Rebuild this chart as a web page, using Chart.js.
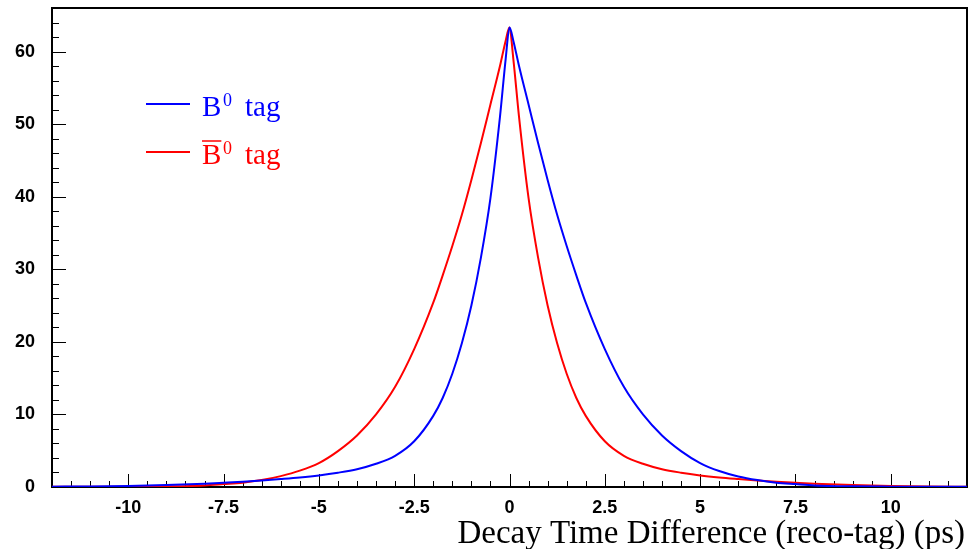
<!DOCTYPE html>
<html>
<head>
<meta charset="utf-8">
<script src="https://cdn.jsdelivr.net/npm/chart.js@4/dist/chart.umd.min.js"></script>
<style>
  html, body { margin: 0; padding: 0; background: #fff; }
  #wrap { width: 978px; height: 549px; position: relative; }
</style>
</head>
<body>
<div id="wrap"><canvas id="decayChart"></canvas></div>
<script>
// decay time difference (ps), shared by both curves
const times = [-12, -11, -10, -9, -8, -7.5, -7, -6.5, -6, -5.5, -5, -4.5, -4, -3.5, -3, -2.5, -2, -1.75, -1.5, -1.25, -1, -0.75, -0.5, -0.25, -0.1, 0,
               0.1, 0.25, 0.5, 0.75, 1, 1.25, 1.5, 1.75, 2, 2.5, 3, 3.5, 4, 4.5, 5, 5.5, 6, 6.5, 7, 7.5, 8, 9, 10, 11, 12];

const b0Tag = [0.04, 0.08, 0.15, 0.27, 0.45, 0.58, 0.72, 0.9, 1.1, 1.32, 1.6, 1.97, 2.45, 3.2, 4.3, 6.3, 9.8, 12.3, 15.6, 19.8, 25.0, 31.6, 39.8, 51.0, 59.0, 63.3,
               61.5, 58.0, 52.7, 47.4, 42.3, 37.5, 33.2, 29.2, 25.4, 19.0, 13.8, 10.0, 7.1, 4.95, 3.3, 2.2, 1.45, 0.95, 0.6, 0.4, 0.22, 0.09, 0.05, 0.03, 0.02];

const b0barTag = [0.02, 0.03, 0.05, 0.09, 0.22, 0.4, 0.6, 0.95, 1.5, 2.25, 3.3, 4.95, 7.1, 10.0, 13.8, 19.0, 25.4, 29.2, 33.2, 37.5, 42.3, 47.4, 52.7, 58.0, 61.5, 63.3,
                  59.0, 51.0, 39.8, 31.6, 25.0, 19.8, 15.6, 12.3, 9.8, 6.3, 4.3, 3.2, 2.45, 1.97, 1.6, 1.32, 1.1, 0.9, 0.72, 0.58, 0.45, 0.27, 0.15, 0.08, 0.04];

const xTicks = [-10, -7.5, -5, -2.5, 0, 2.5, 5, 7.5, 10];
const yTicks = [0, 10, 20, 30, 40, 50, 60];

const pts = (vals) => times.map((t, i) => ({ x: t, y: vals[i] }));

// frame, inward ticks, legend and axis title, ROOT-style
const rootFrame = {
    id: 'rootFrame',
    beforeDatasetsDraw(chart) {
        const { ctx, chartArea: a, scales: { x, y } } = chart;
        ctx.save();
        ctx.strokeStyle = '#000';
        ctx.lineWidth = 1;
        // minor + major ticks on x
        for (let v = -12; v <= 12.001; v += 0.5) {
            const px = Math.round(x.getPixelForValue(v)) + 0.5;
            const major = Math.abs(v / 2.5 - Math.round(v / 2.5)) < 1e-6;
            ctx.beginPath();
            ctx.moveTo(px, a.bottom);
            ctx.lineTo(px, a.bottom - (major ? 13 : 6));
            ctx.stroke();
        }
        for (let v = 0; v <= 66; v += 2) {
            const py = Math.round(y.getPixelForValue(v)) + 0.5;
            const major = v % 10 === 0;
            ctx.beginPath();
            ctx.moveTo(a.left, py);
            ctx.lineTo(a.left + (major ? 14 : 7), py);
            ctx.stroke();
        }
        ctx.lineWidth = 2;
        ctx.strokeRect(a.left, a.top, a.right - a.left, a.bottom - a.top);
        ctx.restore();
    },
    afterDraw(chart) {
        const { ctx } = chart;
        const serif = '"Liberation Serif", "Times New Roman", serif';
        ctx.save();
        const entries = [
            { color: '#0000ff', y: 104, bar: false },
            { color: '#ff0000', y: 152, bar: true }
        ];
        entries.forEach(e => {
            ctx.strokeStyle = e.color;
            ctx.lineWidth = 2;
            ctx.beginPath();
            ctx.moveTo(146, e.y);
            ctx.lineTo(190, e.y);
            ctx.stroke();
            ctx.fillStyle = e.color;
            ctx.textBaseline = 'alphabetic';
            ctx.font = '29px ' + serif;
            const base = e.y + 12;
            ctx.fillText('B', 202, base);
            const bw = ctx.measureText('B').width;
            if (e.bar) {
                ctx.lineWidth = 1.5;
                ctx.beginPath();
                ctx.moveTo(202, base - 23);
                ctx.lineTo(202 + bw, base - 23);
                ctx.stroke();
            }
            ctx.font = '18px ' + serif;
            ctx.fillText('0', 223, base - 10);
            ctx.font = '29px ' + serif;
            ctx.fillText('tag', 245, base);
        });
        ctx.fillStyle = '#000';
        ctx.font = '33px ' + serif;
        ctx.textAlign = 'right';
        ctx.fillText('Decay Time Difference (reco-tag) (ps)', 965, 543);
        ctx.restore();
    }
};

const labelFont = { family: '"Liberation Sans", Arial, sans-serif', size: 18, weight: 'bold' };

new Chart(document.getElementById('decayChart'), {
    type: 'line',
    data: {
        datasets: [
            { label: 'B0 tag', data: pts(b0Tag), borderColor: '#0000ff', borderWidth: 2, pointRadius: 0, fill: false, cubicInterpolationMode: 'monotone' },
            { label: 'B0bar tag', data: pts(b0barTag), borderColor: '#ff0000', borderWidth: 2, pointRadius: 0, fill: false, cubicInterpolationMode: 'monotone' }
        ]
    },
    options: {
        responsive: true,
        maintainAspectRatio: false,
        animation: false,
        layout: { padding: { top: 8, right: 11, left: 0, bottom: 0 } },
        plugins: { legend: { display: false }, tooltip: { enabled: false } },
        scales: {
            x: {
                type: 'linear',
                min: -12,
                max: 12,
                grid: { display: false, drawTicks: false },
                border: { display: false },
                afterBuildTicks: (s) => { s.ticks = xTicks.map(v => ({ value: v })); },
                afterFit: (s) => { s.height = 62; s.paddingLeft = 0; s.paddingRight = 0; },
                ticks: { color: '#000', padding: 10, maxRotation: 0, font: labelFont }
            },
            y: {
                min: 0,
                max: 66,
                grid: { display: false, drawTicks: false },
                border: { display: false },
                afterBuildTicks: (s) => { s.ticks = yTicks.map(v => ({ value: v })); },
                afterFit: (s) => { s.width = 52; s.paddingTop = 0; s.paddingBottom = 0; },
                ticks: { color: '#000', padding: 17, font: labelFont }
            }
        }
    },
    plugins: [rootFrame]
});
</script>
</body>
</html>
